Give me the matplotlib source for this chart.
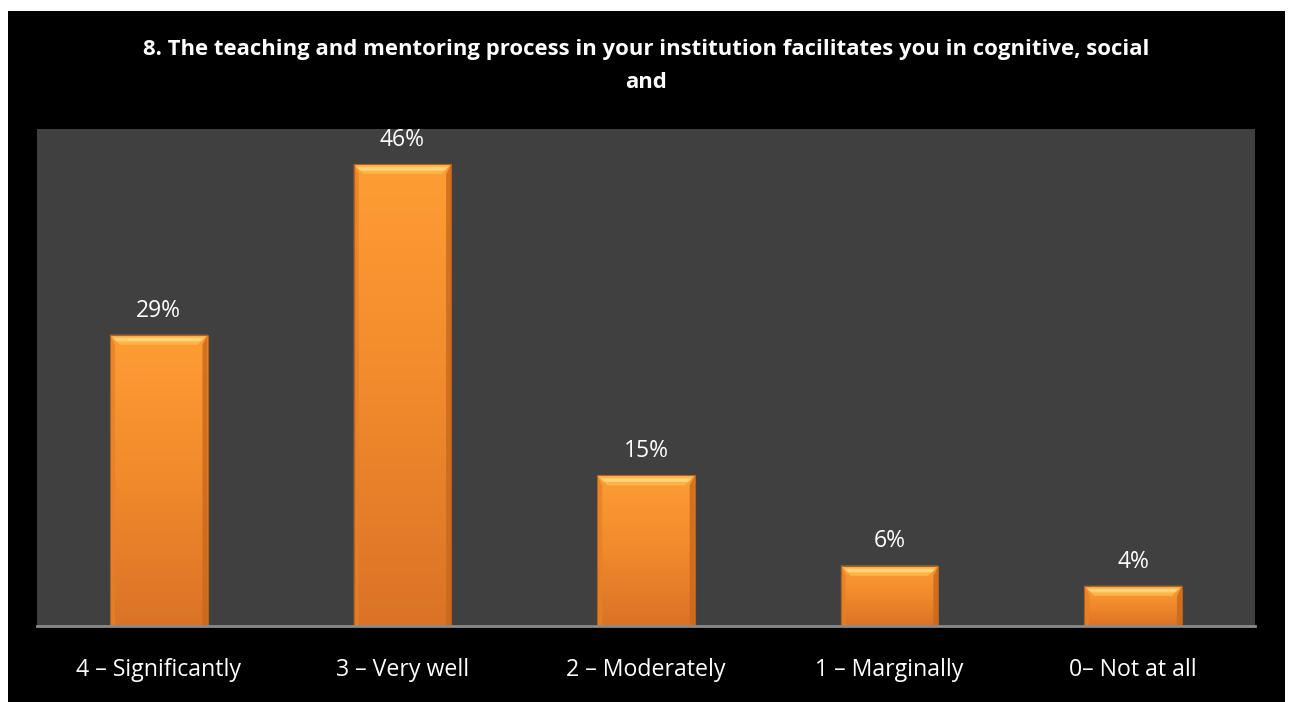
import matplotlib
matplotlib.use("Agg")
import matplotlib.pyplot as plt
from matplotlib.patches import Rectangle, Polygon
import numpy as np

categories = ["4 – Significantly", "3 – Very well", "2 – Moderately", "1 – Marginally", "0– Not at all"]
values = [29, 46, 15, 6, 4]
labels = ["29%", "46%", "15%", "6%", "4%"]
title = "8. The teaching and mentoring process in your institution facilitates you in cognitive, social\nand"

plt.rcParams['font.family'] = ['Open Sans', 'DejaVu Sans']

W, H = 1290, 702
fig = plt.figure(figsize=(W / 100, H / 100), dpi=100, facecolor="white")

# black chart area with thin white margin top/left/right
fig.patches.append(Rectangle((8 / W, 0), (1285 - 8) / W, (H - 11) / H,
                             transform=fig.transFigure, facecolor="black",
                             edgecolor="none", zorder=-5))

ax = fig.add_axes([37 / W, (H - 626) / H, (1255 - 37) / W, (626 - 129) / H])
ax.set_facecolor("#404040")

x = np.arange(len(values))
bw = 0.4
ax.set_xlim(-0.5, len(values) - 0.5)
ax.set_ylim(0, 49.5)

# bevel sizes in data units (~10 px)
px_x = len(values) / 1218
px_y = 49.5 / 497
dx, dy = 10 * px_x, 10 * px_y

grad = np.linspace(0, 1, 256).reshape(-1, 1)
cmap = matplotlib.colors.LinearSegmentedColormap.from_list(
    "org", ["#DA7326", "#F08A2C", "#FF9D34"])

for xi, v in zip(x, values):
    l, r = xi - bw / 2, xi + bw / 2
    body = ax.bar(xi, v, width=bw, color="#F7942F", edgecolor="none", zorder=2)[0]
    im = ax.imshow(grad, extent=(l, r, 0, v), origin="lower", cmap=cmap,
                   aspect="auto", zorder=2.1)
    im.set_clip_path(body)
    # top bevel (light)
    ax.add_patch(Polygon([(l, v), (r, v), (r - dx, v - dy), (l + dx, v - dy)],
                         closed=True, facecolor="#FFB448", edgecolor="none", zorder=2.2))
    ax.add_patch(Polygon([(l + dx * 0.3, v - dy * 0.3), (r - dx * 0.3, v - dy * 0.3),
                          (r - dx * 0.65, v - dy * 0.65), (l + dx * 0.65, v - dy * 0.65)],
                         closed=True, facecolor="#FFD47A", edgecolor="none", zorder=2.25))
    # side bevels (darker)
    ax.add_patch(Polygon([(l, v), (l + dx * 0.5, v - dy), (l + dx * 0.5, 0), (l, 0)],
                         closed=True, facecolor="#E58129", edgecolor="none", alpha=0.8, zorder=2.2))
    ax.add_patch(Polygon([(r, v), (r - dx * 0.5, v - dy), (r - dx * 0.5, 0), (r, 0)],
                         closed=True, facecolor="#C9671D", edgecolor="none", alpha=0.8, zorder=2.2))
    ax.add_patch(Rectangle((l, 0), bw, v, facecolor="none", edgecolor="#B85E1A",
                           linewidth=0.8, zorder=2.3))

for xi, v, lab in zip(x, values, labels):
    ax.annotate(lab, (xi, v), xytext=(0, 17.5), textcoords="offset points",
                ha="center", va="center", color="white", fontsize=16.5)

for s in ["top", "left", "right"]:
    ax.spines[s].set_visible(False)
ax.spines["bottom"].set_color("#8A8A8A")
ax.spines["bottom"].set_linewidth(2)
ax.spines["bottom"].set_zorder(3)

ax.set_yticks([])
ax.set_xticks(x)
ax.set_xticklabels(categories, color="white", fontsize=16.7)
ax.tick_params(axis="x", length=0, pad=23)

fig.text(646 / W, 1 - 66 / H, title, ha="center", va="center", color="white",
         fontsize=15.9, fontweight="bold", linespacing=1.7)

fig.savefig("out.png", dpi=100, facecolor=fig.get_facecolor())
